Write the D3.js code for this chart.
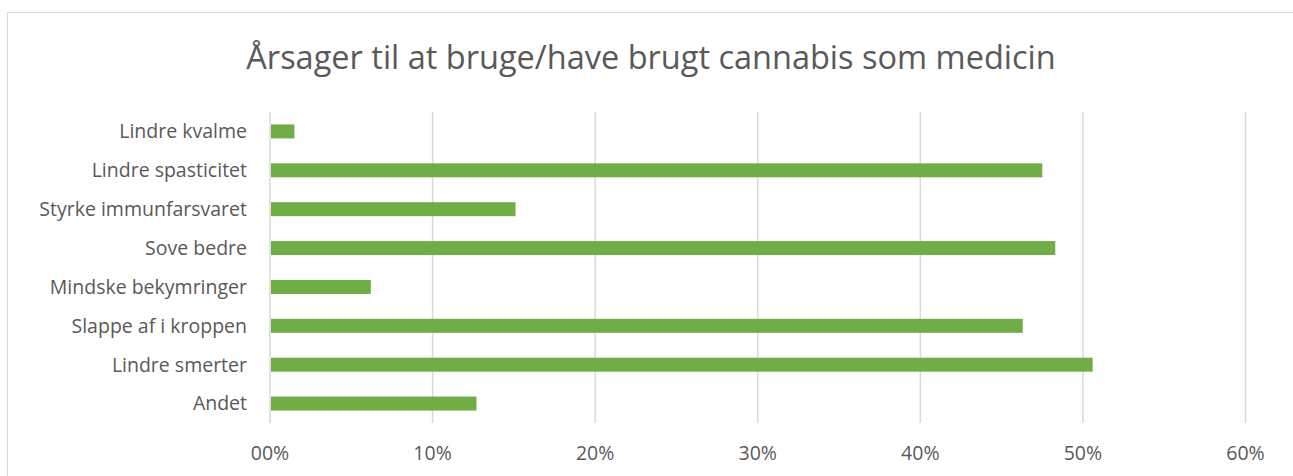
<!DOCTYPE html>
<html>
<head>
<meta charset="utf-8">
<script src="https://cdn.jsdelivr.net/npm/d3@7"></script>
<style>
  body { margin: 0; background: #fff; }
  svg text { font-family: "Open Sans", sans-serif; fill: #595959; }
</style>
</head>
<body>
<div id="chart"></div>
<script>
const title = "Årsager til at bruge/have brugt cannabis som medicin";
const categories = ["Lindre kvalme", "Lindre spasticitet", "Styrke immunfarsvaret", "Sove bedre",
  "Mindske bekymringer", "Slappe af i kroppen", "Lindre smerter", "Andet"];
const values = [0.015, 0.475, 0.151, 0.483, 0.062, 0.463, 0.506, 0.127];
const tickValues = [0, 0.1, 0.2, 0.3, 0.4, 0.5, 0.6];
const tickLabels = ["00%", "10%", "20%", "30%", "40%", "50%", "60%"];

const W = 1293, H = 476;
const margin = {top: 112, right: 47.5, bottom: 53, left: 270};

const svg = d3.select("#chart").append("svg")
  .attr("width", W).attr("height", H);

// chart frame
svg.append("rect")
  .attr("x", 7.5).attr("y", 12.5)
  .attr("width", W + 10).attr("height", H + 10)
  .attr("fill", "none").attr("stroke", "#d9d9d9");

svg.append("text")
  .attr("x", 651).attr("y", 69)
  .attr("text-anchor", "middle")
  .attr("font-size", "32.5px")
  .text(title);

const x = d3.scaleLinear()
  .domain([0, 0.6])
  .range([margin.left, W - margin.right]);

const y = d3.scaleBand()
  .domain(categories)
  .range([margin.top, H - margin.bottom])
  .paddingInner(0.64)
  .paddingOuter(0.32);

// gridlines
svg.append("g")
  .selectAll("line")
  .data(tickValues)
  .join("line")
  .attr("x1", d => x(d)).attr("x2", d => x(d))
  .attr("y1", margin.top).attr("y2", H - margin.bottom)
  .attr("stroke", "#d9d9d9").attr("stroke-width", 1.5);

// bars
svg.append("g")
  .selectAll("rect")
  .data(values)
  .join("rect")
  .attr("x", x(0) + 1)
  .attr("y", (d, i) => y(categories[i]))
  .attr("width", d => x(d) - x(0) - 1)
  .attr("height", y.bandwidth())
  .attr("fill", "#70ad47");

// y labels
svg.append("g")
  .selectAll("text")
  .data(categories)
  .join("text")
  .attr("x", 247)
  .attr("y", d => y(d) + y.bandwidth() / 2)
  .attr("dy", "0.35em")
  .attr("text-anchor", "end")
  .attr("font-size", "19.5px")
  .text(d => d);

// x labels
svg.append("g")
  .selectAll("text")
  .data(tickValues)
  .join("text")
  .attr("x", d => x(d))
  .attr("y", 453)
  .attr("dy", "0.35em")
  .attr("text-anchor", "middle")
  .attr("font-size", "19.5px")
  .text((d, i) => tickLabels[i]);
</script>
</body>
</html>
